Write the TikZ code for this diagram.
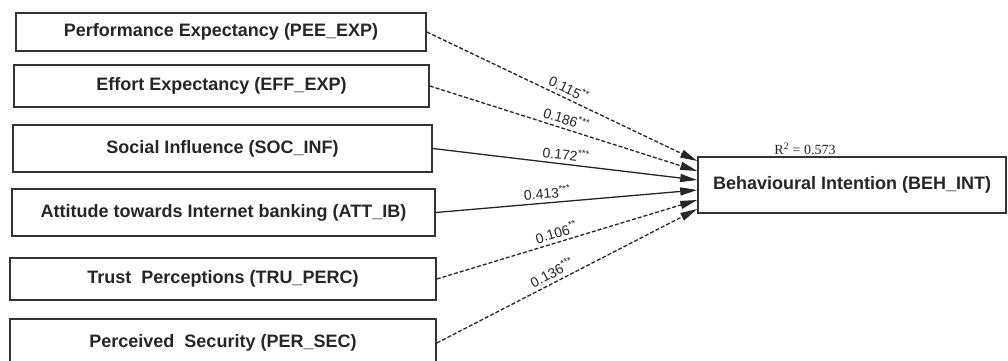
\documentclass[tikz,border=0pt]{standalone}
\usepackage{fontspec}
\setmainfont{Liberation Sans}
\newfontfamily\serifface{Liberation Serif}
\usetikzlibrary{arrows.meta}
\tikzset{
  construct/.style={draw=black!80, line width=1.6pt, fill=white, inner sep=0pt,
    font=\fontsize{18}{20}\selectfont\bfseries, text=black!85},
  path/.style={line width=1.3pt, black!85, -{Triangle[length=17pt,width=8pt]}},
  dpath/.style={path, dash pattern=on 4pt off 2pt},
  coef/.style={sloped, above=3pt, font=\fontsize{14}{16}\selectfont, text=black!85, inner sep=0.5pt}
}
\begin{document}
\begin{tikzpicture}[x=1pt,y=-1pt]
  \useasboundingbox (0,0) rectangle (1008,360);
  \clip (0,0) rectangle (1008,360);
  % exogenous constructs
  \node[construct, minimum width=410pt, minimum height=38pt] (pee) at (221,32)    {Performance Expectancy (PEE\_EXP)};
  \node[construct, minimum width=415pt, minimum height=42pt] (eff) at (221.5,86)  {Effort Expectancy (EFF\_EXP)};
  \node[construct, minimum width=419pt, minimum height=47pt] (soc) at (222.5,148.5) {Social Influence (SOC\_INF)};
  \node[construct, minimum width=423pt, minimum height=47pt] (att) at (223.5,212.5) {Attitude towards Internet banking (ATT\_IB)};
  \node[construct, minimum width=426pt, minimum height=42pt] (tru) at (223,279)   {Trust\ \ Perceptions (TRU\_PERC)};
  \node[construct, minimum width=426pt, minimum height=48pt] (per) at (223,343)   {Perceived\ \ Security (PER\_SEC)};
  % endogenous construct
  \node[construct, minimum width=308pt, minimum height=56pt] (beh) at (852,185)   {Behavioural Intention (BEH\_INT)};
  \node[font=\serifface\fontsize{14}{16}\selectfont, text=black!85, inner sep=0pt] (r2) at (805,149) {R\textsuperscript{2} = 0.573};
  % structural paths
  \draw[dpath] (pee.east) -- node[coef, pos=0.51] {0.115\textsuperscript{**}}  ([yshift=24pt]beh.west);
  \draw[dpath] (eff.east) -- node[coef, pos=0.50] {0.186\textsuperscript{***}} ([yshift=14pt]beh.west);
  \draw[path]  (soc.east) -- node[coef, pos=0.50] {0.172\textsuperscript{***}} ([yshift=5pt]beh.west);
  \draw[path]  (att.east) -- node[coef, pos=0.43] {0.413\textsuperscript{***}} ([yshift=-5pt]beh.west);
  \draw[dpath] (tru.east) -- node[coef, pos=0.47] {0.106\textsuperscript{**}}  ([yshift=-15pt]beh.west);
  \draw[dpath] (per.east) -- node[coef, pos=0.46] {0.136\textsuperscript{***}} ([yshift=-24pt]beh.west);
\end{tikzpicture}
\end{document}
